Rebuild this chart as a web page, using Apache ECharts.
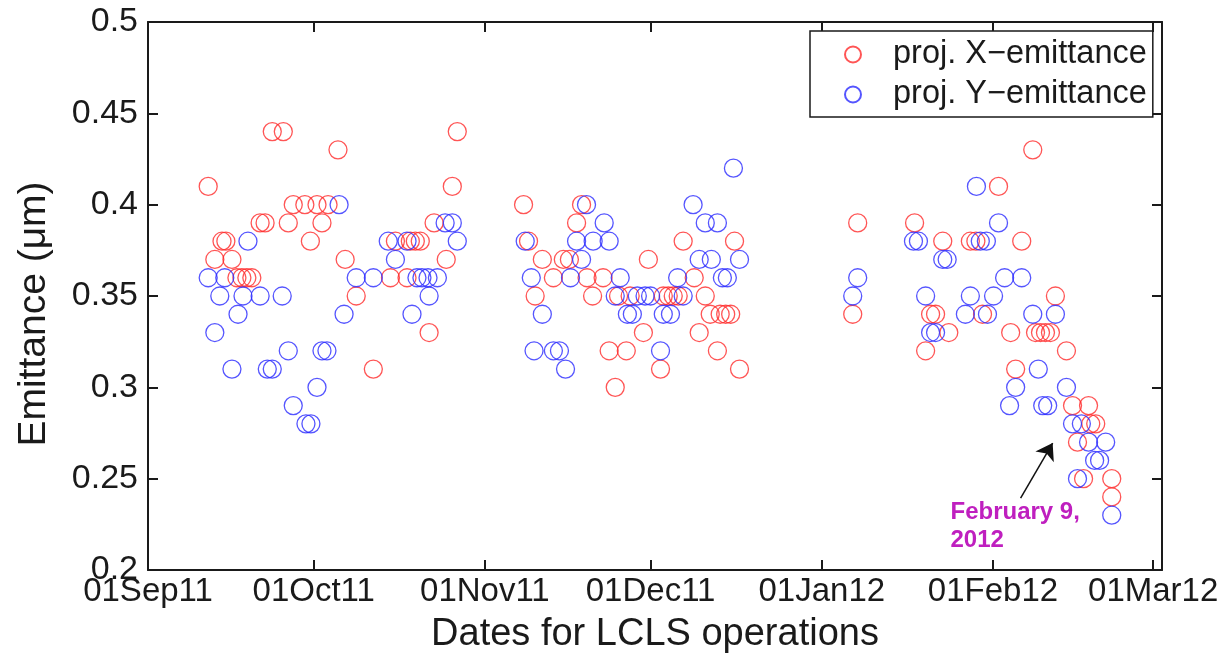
<!DOCTYPE html>
<html lang="en">
<head>
    <meta charset="UTF-8">
    <title>LCLS emittance</title>
    <script src="https://cdn.jsdelivr.net/npm/echarts@6.0.0/dist/echarts.min.js"></script>
    <style>
        html, body { margin: 0; padding: 0; background: #fff; }
    </style>
</head>
<body>
    <div id="main" style="width:1232px;height:665px;"></div>

    <script>
        // x = days since 01Sep11, y = emittance in um
        const redDays = [10.9, 12.1, 13.4, 14.1, 15.2, 16.1, 17.0, 17.9, 18.8, 20.3, 21.2, 22.5, 24.5, 25.4, 26.3,
            28.4, 29.4, 30.6, 31.5, 32.6, 34.4, 35.7, 37.7, 40.8, 43.9, 44.8, 46.9, 47.5, 48.4, 49.3, 50.9, 51.8,
            54.0, 55.1, 56.0,
            68.0, 68.9, 70.1, 71.4, 73.4, 75.2, 76.3, 77.6, 78.5, 79.5, 80.5, 82.4, 83.5, 84.6, 85.2, 86.6, 87.3,
            89.7, 90.6, 92.8, 93.3, 94.2, 95.1, 96.0, 96.9, 98.9, 99.8, 100.9, 101.8, 103.1, 103.6, 104.6, 105.5,
            106.2, 107.1,
            127.6, 128.5, 138.8, 140.8, 141.7, 142.6, 143.9, 145.0, 148.9, 149.9, 151.1, 154.0, 156.2, 157.1,
            158.2, 160.2, 160.7, 161.6, 162.5, 163.4, 164.3, 166.3, 167.4, 168.3, 169.4, 170.3, 170.7, 171.6,
            174.5, 174.5];
        const redVals = [0.41, 0.37, 0.38, 0.38, 0.37, 0.36, 0.36, 0.36, 0.36, 0.39, 0.39, 0.44, 0.44, 0.39, 0.40,
            0.40, 0.38, 0.40, 0.39, 0.40, 0.43, 0.37, 0.35, 0.31, 0.36, 0.38, 0.36, 0.38, 0.38, 0.38, 0.33, 0.39,
            0.37, 0.41, 0.44,
            0.40, 0.38, 0.35, 0.37, 0.36, 0.37, 0.37, 0.39, 0.40, 0.36, 0.35, 0.36, 0.32, 0.30, 0.35, 0.32, 0.35,
            0.33, 0.37, 0.31, 0.35, 0.35, 0.35, 0.35, 0.38, 0.36, 0.33, 0.35, 0.34, 0.32, 0.34, 0.34, 0.34,
            0.38, 0.31,
            0.34, 0.39, 0.39, 0.32, 0.34, 0.34, 0.38, 0.33, 0.38, 0.38, 0.34, 0.41, 0.33, 0.31,
            0.38, 0.43, 0.33, 0.33, 0.33, 0.33, 0.35, 0.32, 0.29, 0.27, 0.25, 0.29, 0.28, 0.28,
            0.25, 0.24];

        const blueDays = [10.9, 12.1, 13.0, 13.9, 15.2, 16.3, 17.2, 18.1, 20.3, 21.6, 22.5, 24.3, 25.4, 26.3, 28.6,
            29.5, 30.6, 31.5, 32.4, 34.6, 35.5, 37.7, 40.8, 43.5, 44.8, 46.9, 47.8, 48.7, 49.6, 50.7, 50.9, 52.4,
            53.8, 55.1, 56.0,
            68.3, 69.4, 69.9, 71.4, 73.4, 74.5, 75.6, 76.5, 77.6, 78.5, 79.4, 80.6, 82.6, 83.5, 84.6, 85.5, 86.8,
            87.7, 88.6, 90.0, 91.0, 92.8, 93.3, 94.6, 95.9, 96.9, 98.7, 99.8, 100.9, 102.0, 103.1, 104.0, 104.9,
            106.0, 107.1,
            127.6, 128.5, 138.6, 139.5, 140.8, 141.7, 142.6, 143.9, 144.7, 148.0, 148.9, 150.0, 150.7, 151.8,
            152.0, 153.1, 154.0, 155.1, 156.0, 157.1, 158.2, 160.2, 161.2, 162.0, 162.9, 164.3, 166.3, 167.4,
            169.0, 170.3, 171.4, 172.3, 173.4, 168.3, 174.5];
        const blueVals = [0.36, 0.33, 0.35, 0.36, 0.31, 0.34, 0.35, 0.38, 0.35, 0.31, 0.31, 0.35, 0.32, 0.29, 0.28,
            0.28, 0.30, 0.32, 0.32, 0.40, 0.34, 0.36, 0.36, 0.38, 0.37, 0.38, 0.34, 0.36, 0.36, 0.36, 0.35, 0.36,
            0.39, 0.39, 0.38,
            0.38, 0.36, 0.32, 0.34, 0.32, 0.32, 0.31, 0.36, 0.38, 0.37, 0.40, 0.38, 0.39, 0.38, 0.35, 0.36, 0.34,
            0.34, 0.35, 0.35, 0.35, 0.32, 0.34, 0.34, 0.36, 0.35, 0.40, 0.37, 0.39, 0.37, 0.39, 0.36, 0.36,
            0.42, 0.37,
            0.35, 0.36, 0.38, 0.38, 0.35, 0.33, 0.33, 0.37, 0.37, 0.34, 0.35, 0.41, 0.38, 0.38,
            0.34, 0.35, 0.39, 0.36, 0.29, 0.30, 0.36, 0.34, 0.31, 0.29, 0.29, 0.34, 0.30, 0.28,
            0.28, 0.27, 0.26, 0.26, 0.27, 0.25, 0.23];

        // month ticks (days since 01Sep11)
        const monthDays = [0, 30, 61, 91, 122, 153, 182];
        const monthLabels = ['01Sep11', '01Oct11', '01Nov11', '01Dec11', '01Jan12', '01Feb12', '01Mar12'];

        // arrow: tail -> head, and note anchor
        const arrowFrom = [158.0, 0.2394];
        const arrowTo = [163.8, 0.2695];
        const notePos = [145.3, 0.2390];

        const FONT = '"Liberation Sans", Arial, sans-serif';
        const INK = '#1a1a1a';

        const toPairs = (xs, ys) => xs.map((x, i) => [x, ys[i]]);

        const boxAxisX = {
            type: 'value', min: 0, max: 183.6,
            axisLine: { show: true, onZero: false, lineStyle: { color: INK, width: 2 } },
            axisTick: { show: true, inside: true, length: 10, customValues: monthDays, lineStyle: { color: INK, width: 2 } },
            splitLine: { show: false }
        };
        const boxAxisY = {
            type: 'value', min: 0.2, max: 0.5, interval: 0.05,
            axisLine: { show: true, onZero: false, lineStyle: { color: INK, width: 2 } },
            axisTick: { show: true, inside: true, length: 10, lineStyle: { color: INK, width: 2 } },
            splitLine: { show: false }
        };

        const option = {
            backgroundColor: '#fff',
            animation: false,
            textStyle: { fontFamily: FONT },
            grid: { left: 148, right: 70, top: 22, bottom: 95 },
            legend: {
                orient: 'vertical',
                left: 810, top: 31,
                padding: [7, 6, 6, 34],
                itemGap: 7,
                itemWidth: 70, itemHeight: 16,
                backgroundColor: '#fff',
                borderColor: INK, borderWidth: 1.5,
                textStyle: { fontSize: 32.5, color: INK, fontFamily: FONT },
                data: [{ name: 'proj. X−emittance', icon: 'circle' }, { name: 'proj. Y−emittance', icon: 'circle' }]
            },
            xAxis: [
                Object.assign({}, boxAxisX, {
                    position: 'bottom',
                    name: 'Dates for LCLS operations', nameLocation: 'middle', nameGap: 46,
                    nameTextStyle: { fontSize: 38, color: INK, fontFamily: FONT },
                    axisLabel: {
                        show: true, margin: 5, fontSize: 33, color: INK, fontFamily: FONT,
                        customValues: monthDays,
                        formatter: v => monthLabels[monthDays.indexOf(v)] || ''
                    }
                }),
                Object.assign({}, boxAxisX, { position: 'top', axisLabel: { show: false } })
            ],
            yAxis: [
                Object.assign({}, boxAxisY, {
                    position: 'left',
                    name: 'Emittance (μm)', nameLocation: 'middle', nameGap: 94,
                    nameTextStyle: { fontSize: 39, color: INK, fontFamily: FONT, padding: [0, 36, 0, 0] },
                    axisLabel: {
                        show: true, margin: 10, fontSize: 34, color: INK, fontFamily: FONT,
                        formatter: v => String(+v.toFixed(2))
                    }
                }),
                Object.assign({}, boxAxisY, { position: 'right', axisLabel: { show: false } })
            ],
            series: [
                {
                    name: 'proj. X−emittance',
                    type: 'scatter',
                    symbol: 'circle', symbolSize: 18,
                    itemStyle: { color: 'rgba(0,0,0,0)', borderColor: '#ff2b2b', borderWidth: 1.3 },
                    emphasis: { disabled: true },
                    data: toPairs(redDays, redVals),
                    markLine: {
                        silent: true,
                        symbol: ['none', 'arrow'], symbolSize: 16,
                        itemStyle: { color: '#111' },
                        lineStyle: { color: '#111', width: 1.5, type: 'solid' },
                        label: { show: false },
                        emphasis: { disabled: true },
                        data: [[{ coord: arrowFrom }, { coord: arrowTo }]]
                    }
                },
                {
                    name: 'proj. Y−emittance',
                    type: 'scatter',
                    symbol: 'circle', symbolSize: 18,
                    itemStyle: { color: 'rgba(0,0,0,0)', borderColor: '#2b2bff', borderWidth: 1.3 },
                    emphasis: { disabled: true },
                    data: toPairs(blueDays, blueVals)
                }
            ]
        };

        const chart = echarts.init(document.getElementById('main'), null, { renderer: 'canvas' });
        chart.setOption(option);

        const p = chart.convertToPixel({ xAxisIndex: 0, yAxisIndex: 0 }, notePos);
        chart.setOption({
            graphic: [{
                type: 'text', x: p[0], y: p[1],
                style: {
                    text: 'February 9,\n2012', fill: '#bf1fbf',
                    font: 'bold 24px ' + FONT, lineHeight: 28,
                    textAlign: 'left', textVerticalAlign: 'top'
                }
            }]
        });
    </script>
</body>
</html>
